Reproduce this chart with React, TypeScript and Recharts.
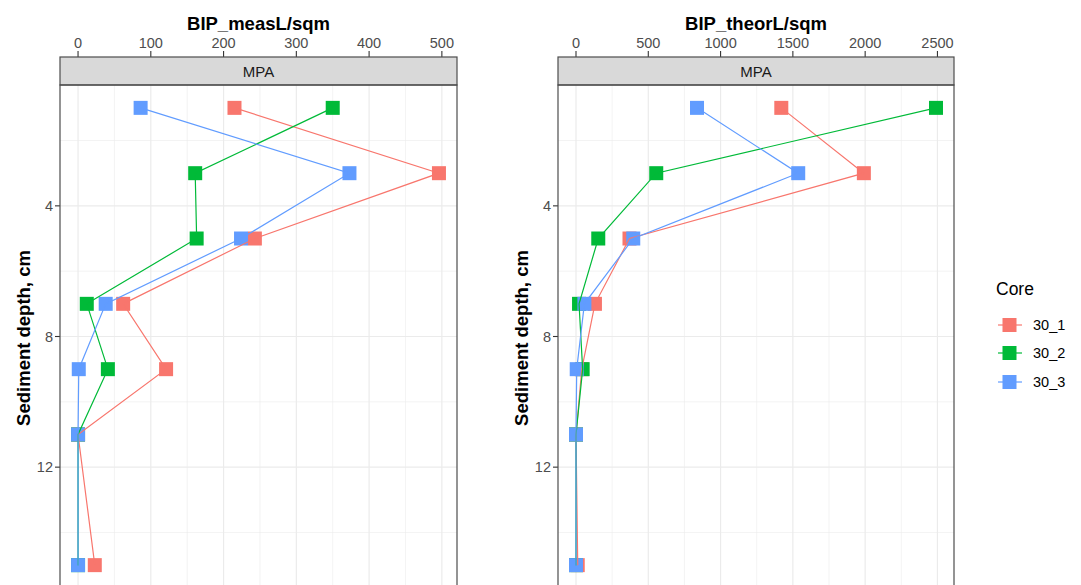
import React from 'react';
import { ScatterChart, Scatter, XAxis, YAxis, CartesianGrid } from 'recharts';

// depth of each sample (cm)
const depths = [1, 3, 5, 7, 9, 11, 15];
const cores = ['30_1', '30_2', '30_3'];
const coreColors = ['#F8766D', '#00BA38', '#619CFF'];

// BIP_measL/sqm per core
const measCore1 = [215, 496, 243, 62, 121, 0, 23];
const measCore2 = [350, 161, 163, 12, 41, 0, 0];
const measCore3 = [86, 373, 224, 38, 1, 0, 0];

// BIP_theorL/sqm per core
const theorCore1 = [1420, 1991, 370, 131, 40, 0, 12];
const theorCore2 = [2490, 555, 154, 21, 46, 0, 0];
const theorCore3 = [837, 1537, 396, 58, 5, 0, 0];

const measTicks = [0, 100, 200, 300, 400, 500];
const measMinor = [50, 150, 250, 350, 450];
const theorTicks = [0, 500, 1000, 1500, 2000, 2500];
const theorMinor = [250, 750, 1250, 1750, 2250];
const depthTicks = [4, 8, 12];
const depthMinor = [2, 6, 10, 14];

const FONT = '"Liberation Sans", Arial, Helvetica, sans-serif';
const CHART_W = 470;
const CHART_H = 600;

const makeSquare = (color: string) => (props: any) => (
  <rect x={props.cx - 7} y={props.cy - 7} width={14} height={14} fill={color} />
);
const emptyShape = () => <g />;

const TopTick = (props: any) => {
  const { x, y, payload } = props;
  return (
    <g>
      <line x1={x} x2={x} y1={y - 34} y2={y - 28} stroke="#333333" strokeWidth={1.1} />
      <text x={x} y={y - 37} textAnchor="middle" fill="#4D4D4D" fontSize={14.5}>
        {payload.value}
      </text>
    </g>
  );
};

interface PanelProps {
  left: number;
  series: number[][];
  ticks: number[];
  minor: number[];
  rightMargin: number;
}

const Panel: React.FC<PanelProps> = ({ left, series, ticks, minor, rightMargin }) => {
  // ggplot-like 5% expansion
  const maxV = Math.max(...series.flat());
  const minV = Math.min(...series.flat());
  const xPad = (maxV - minV) * 0.05;
  const yPad = (depths[depths.length - 1] - depths[0]) * 0.05;
  const xDomain = [minV - xPad, maxV + xPad];
  const yDomain = [depths[0] - yPad, depths[depths.length - 1] + yPad];
  const data = series.map((vals) => depths.map((d, i) => ({ depth: d, value: vals[i] })));

  return (
    <div style={{ position: 'absolute', left, top: 0 }}>
      <ScatterChart width={CHART_W} height={CHART_H} margin={{ top: 55, right: rightMargin, bottom: 12, left: 0 }}>
        <CartesianGrid horizontalValues={depthMinor} verticalValues={minor} stroke="#EBEBEB" strokeWidth={0.6} />
        <CartesianGrid horizontalValues={depthTicks} verticalValues={ticks} stroke="#EBEBEB" strokeWidth={1.2} />
        <XAxis
          type="number"
          dataKey="value"
          orientation="top"
          domain={xDomain}
          ticks={ticks}
          interval={0}
          allowDataOverflow
          height={30}
          tickSize={0}
          tickMargin={0}
          axisLine={false}
          tickLine={false}
          tick={<TopTick />}
        />
        <YAxis
          type="number"
          dataKey="depth"
          reversed
          domain={yDomain}
          ticks={depthTicks}
          interval={0}
          allowDataOverflow
          width={60}
          axisLine={false}
          tickSize={5}
          tickLine={{ stroke: '#333333', strokeWidth: 1.1 }}
          tick={{ fill: '#4D4D4D', fontSize: 14.5 }}
        />
        {data.map((d, i) => (
          <Scatter key={'pt' + i} name={cores[i]} data={d} fill={coreColors[i]} shape={makeSquare(coreColors[i])} isAnimationActive={false} />
        ))}
        {data.map((d, i) => (
          <Scatter
            key={'ln' + i}
            data={d}
            fill={coreColors[i]}
            line={{ stroke: coreColors[i], strokeWidth: 1.2 }}
            shape={emptyShape}
            isAnimationActive={false}
          />
        ))}
      </ScatterChart>
    </div>
  );
};

// panel frames (plot area + facet strip) for the overlay
const frames = [
  { x: 60, w: 397 },
  { x: 558, w: 396 },
];

const App: React.FC = () => {
  return (
    <div
      style={{
        position: 'absolute',
        left: 0,
        top: 0,
        width: 1081,
        height: 585,
        overflow: 'hidden',
        background: '#FFFFFF',
        fontFamily: FONT,
      }}
    >
      <Panel left={0} series={[measCore1, measCore2, measCore3]} ticks={measTicks} minor={measMinor} rightMargin={13} />
      <Panel left={498} series={[theorCore1, theorCore2, theorCore3]} ticks={theorTicks} minor={theorMinor} rightMargin={14} />

      <svg width={1081} height={585} style={{ position: 'absolute', left: 0, top: 0, pointerEvents: 'none' }}>
        {frames.map((f, i) => (
          <g key={i}>
            <rect x={f.x} y={57} width={f.w} height={28} fill="#D9D9D9" stroke="#4D4D4D" strokeWidth={1.2} />
            <text x={f.x + f.w / 2} y={76.5} textAnchor="middle" fontSize={15} fill="#1A1A1A">
              MPA
            </text>
            <rect x={f.x} y={85} width={f.w} height={503} fill="none" stroke="#4D4D4D" strokeWidth={1.2} />
          </g>
        ))}
        <text x={258.5} y={30} textAnchor="middle" fontSize={18.5} fontWeight="bold" fill="#000">
          BIP_measL/sqm
        </text>
        <text x={756} y={30} textAnchor="middle" fontSize={18.5} fontWeight="bold" fill="#000">
          BIP_theorL/sqm
        </text>
        <text x={30} y={338} textAnchor="middle" fontSize={18.5} fontWeight="bold" fill="#000" transform="rotate(-90 30 338)">
          Sediment depth, cm
        </text>
        <text x={528} y={338} textAnchor="middle" fontSize={18.5} fontWeight="bold" fill="#000" transform="rotate(-90 528 338)">
          Sediment depth, cm
        </text>
      </svg>

      <div style={{ position: 'absolute', left: 996, top: 279, fontFamily: FONT }}>
        <div style={{ fontSize: 17.5, color: '#000', lineHeight: '20px', marginBottom: 12 }}>Core</div>
        {cores.map((c, i) => (
          <div key={c} style={{ display: 'flex', alignItems: 'center', height: 28.3 }}>
            <svg width={28} height={20} style={{ display: 'block' }}>
              <line x1={2} x2={26} y1={10} y2={10} stroke={coreColors[i]} strokeWidth={1.2} />
              <rect x={6.5} y={3} width={14} height={14} fill={coreColors[i]} />
            </svg>
            <span style={{ fontSize: 14.5, color: '#000', marginLeft: 9 }}>{c}</span>
          </div>
        ))}
      </div>
    </div>
  );
};

export default App;
